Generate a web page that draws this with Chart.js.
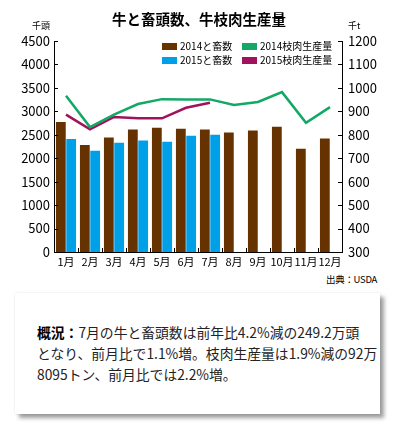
<!DOCTYPE html>
<html>
<head>
<meta charset="utf-8">
<script src="https://cdn.jsdelivr.net/npm/chart.js@4"></script>
<style>
  body { margin: 0; background: #fff; font-family: "Noto Sans CJK JP", "Noto Sans", sans-serif; color: #000; }
  #wrap { position: relative; width: 393px; height: 433px; overflow: hidden; }
  #chartBox { position: absolute; left: 0; top: 0; width: 393px; height: 272px; }
  .abs { position: absolute; white-space: nowrap; }
  .title { left: 0; top: 8px; width: 398px; text-align: center; font-weight: bold; font-size: 14.5px; line-height: 22px; }
  .unit { font-size: 9px; line-height: 10px; top: 21px; }
  .legend { font-size: 10px; line-height: 12px; }
  .legend i { position: absolute; width: 15px; height: 7px; left: 0; top: 2.5px; }
  .legend span { position: absolute; left: 18px; top: 0; }
  .src { right: 16px; top: 273px; font-size: 9.5px; line-height: 12px; letter-spacing: -0.3px; }
  .note {
    left: 15px; top: 293px; width: 343px; height: 92px;
    padding: 29px 0 0 22px; background: #fff;
    box-shadow: 4px 4px 4px rgba(0,0,0,.38), 0 0 2px rgba(0,0,0,.12);
    font-size: 13.8px; line-height: 21px; color: #222;
  }
  .note b { font-weight: bold; color: #000; }
</style>
</head>
<body>
<div id="wrap">
  <div id="chartBox"><canvas id="c"></canvas></div>
  <div class="abs title">牛と畜頭数、牛枝肉生産量</div>
  <div class="abs unit" style="left:32px">千頭</div>
  <div class="abs unit" style="left:348px">千t</div>
  <div id="legend"></div>
  <div class="abs src">出典：USDA</div>
  <div class="abs note"><b>概況：</b>7月の牛と畜頭数は前年比4.2%減の249.2万頭<br>となり、前月比で1.1%増。枝肉生産量は1.9%減の92万<br>8095トン、前月比では2.2%増。</div>
</div>
<script>
// months on the x axis
const months = ['1月', '2月', '3月', '4月', '5月', '6月', '7月', '8月', '9月', '10月', '11月', '12月'];

// slaughter head count, 千頭 (left axis)
const cattle2014 = [2770, 2280, 2440, 2610, 2650, 2630, 2610, 2550, 2590, 2670, 2200, 2420];
const cattle2015 = [2410, 2160, 2330, 2380, 2350, 2480, 2500, null, null, null, null, null];

// carcass production, 千t (right axis)
const beef2014 = [966, 833, 886, 931, 952, 950, 951, 927, 940, 982, 851, 918];
const beef2015 = [886, 823, 876, 870, 870, 915, 937, null, null, null, null, null];

// axis ranges / ticks
const leftTicks = { min: 0, max: 4500, step: 500 };
const rightTicks = { min: 300, max: 1200, step: 100 };

const COL = { brown: '#663300', blue: '#00a0e9', green: '#12a866', purple: '#a0135c' };
const FONT = '"Noto Sans CJK JP", "Noto Sans", sans-serif';

// legend drawn in html (2 x 2 grid inside plot)
const legendItems = [
  { label: '2014と畜数', color: COL.brown, x: 162, y: 40 },
  { label: '2014枝肉生産量', color: COL.green, x: 242, y: 40 },
  { label: '2015と畜数', color: COL.blue, x: 162, y: 54 },
  { label: '2015枝肉生産量', color: COL.purple, x: 242, y: 54 }
];
document.getElementById('legend').innerHTML = legendItems.map(it =>
  `<div class="abs legend" style="left:${it.x}px;top:${it.y}px"><i style="background:${it.color}"></i><span>${it.label}</span></div>`
).join('');

// ticks pointing into the plot, like the print chart
const innerTicks = {
  id: 'innerTicks',
  afterDraw(chart) {
    const { ctx, chartArea: a, scales } = chart;
    const L = 4;
    ctx.save();
    ctx.strokeStyle = '#000';
    ctx.lineWidth = 1;
    ctx.beginPath();
    scales.y.ticks.forEach(t => {
      const py = Math.round(scales.y.getPixelForValue(t.value)) + 0.5;
      ctx.moveTo(a.left, py); ctx.lineTo(a.left + L, py);
    });
    scales.y1.ticks.forEach(t => {
      const py = Math.round(scales.y1.getPixelForValue(t.value)) + 0.5;
      ctx.moveTo(a.right, py); ctx.lineTo(a.right - L, py);
    });
    for (let i = 1; i < months.length; i++) {
      const px = Math.round(scales.x.getPixelForValue(i - 0.5)) + 0.5;
      ctx.moveTo(px, a.bottom); ctx.lineTo(px, a.bottom - L);
    }
    ctx.stroke();
    ctx.restore();
  }
};

function noPad(w, h) {
  return function (s) {
    if (w != null) s.width = w;
    if (h != null) s.height = h;
    s.paddingTop = 0; s.paddingBottom = 0;
    s.paddingLeft = 0; s.paddingRight = 0;
  };
}

const plain = v => String(v);

new Chart(document.getElementById('c'), {
  type: 'bar',
  data: {
    labels: months,
    datasets: [
      { type: 'line', label: '2014枝肉生産量', data: beef2014, yAxisID: 'y1', borderColor: COL.green, backgroundColor: COL.green, borderWidth: 2.5, pointRadius: 0, tension: 0, order: 0 },
      { type: 'line', label: '2015枝肉生産量', data: beef2015, yAxisID: 'y1', borderColor: COL.purple, backgroundColor: COL.purple, borderWidth: 2.5, pointRadius: 0, tension: 0, order: 0 },
      { label: '2014と畜数', data: cattle2014, yAxisID: 'y', backgroundColor: COL.brown, categoryPercentage: 0.86, barPercentage: 0.95, order: 1 },
      { label: '2015と畜数', data: cattle2015, yAxisID: 'y', backgroundColor: COL.blue, categoryPercentage: 0.86, barPercentage: 0.95, order: 1 }
    ]
  },
  options: {
    responsive: true,
    maintainAspectRatio: false,
    animation: false,
    layout: { padding: { top: 41, bottom: 0, left: 0, right: 0 } },
    plugins: { legend: { display: false }, title: { display: false }, tooltip: { enabled: false } },
    scales: {
      x: {
        grid: { display: false, drawTicks: false },
        border: { display: true, color: '#000', width: 1 },
        ticks: { color: '#000', font: { family: FONT, size: 11 }, padding: 3, maxRotation: 0, autoSkip: false },
        afterFit: noPad(null, 20)
      },
      y: {
        position: 'left',
        min: leftTicks.min, max: leftTicks.max,
        grid: { display: false, drawTicks: false },
        border: { display: true, color: '#000', width: 1 },
        ticks: { stepSize: leftTicks.step, callback: plain, color: '#000', font: { family: FONT, size: 13 }, padding: 4 },
        afterFit: noPad(54, null)
      },
      y1: {
        position: 'right',
        min: rightTicks.min, max: rightTicks.max,
        grid: { display: false, drawTicks: false },
        border: { display: true, color: '#000', width: 1 },
        ticks: { stepSize: rightTicks.step, callback: plain, color: '#000', font: { family: FONT, size: 13 }, padding: 6 },
        afterFit: noPad(51, null)
      }
    }
  },
  plugins: [innerTicks]
});
</script>
</body>
</html>
